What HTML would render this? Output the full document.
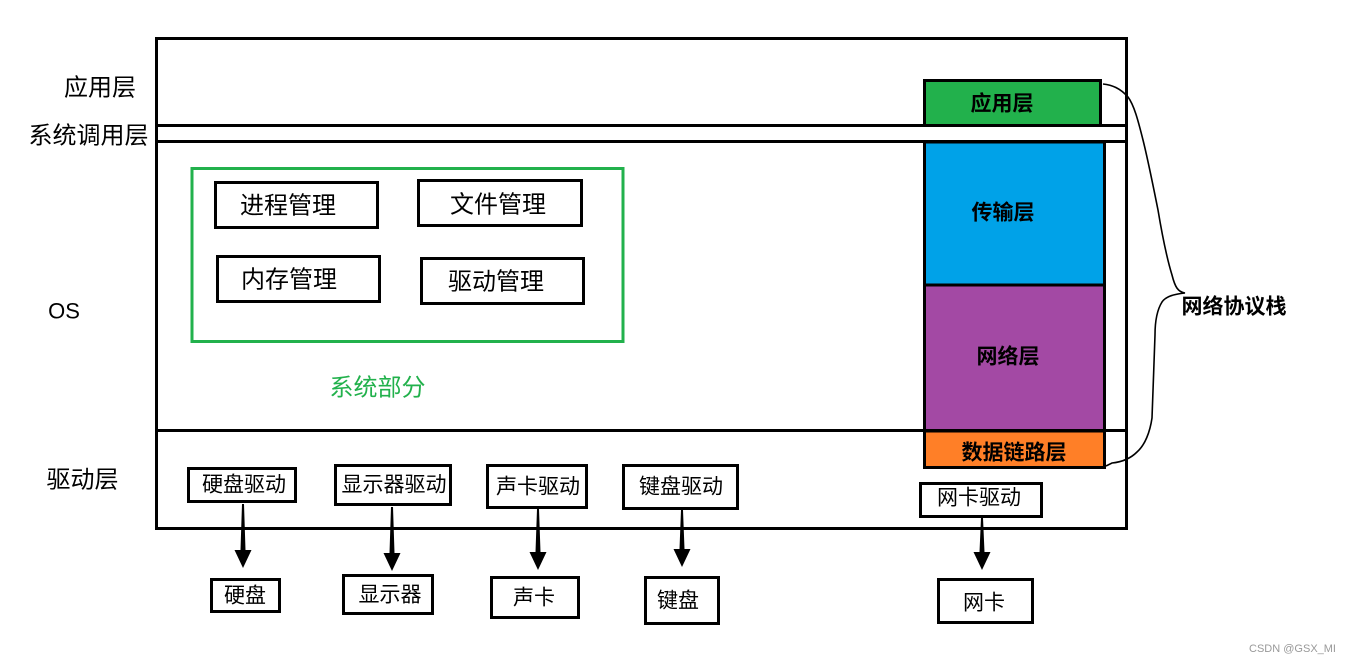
<!DOCTYPE html>
<html><head><meta charset="utf-8"><style>
html,body{margin:0;padding:0;background:#fff;}
svg{display:block;}
text{font-family:"Liberation Sans","Noto Sans CJK SC",sans-serif;}
</style></head><body>
<svg width="1352" height="664" viewBox="0 0 1352 664" xmlns="http://www.w3.org/2000/svg">
<rect x="0" y="0" width="1352" height="664" fill="#fff"/>
<!-- colored stack -->
<rect x="924.5" y="80.5" width="176" height="45" fill="#22b14c" stroke="#000" stroke-width="3"/>
<rect x="924.5" y="142" width="180" height="143" fill="#00a2e8" stroke="#000" stroke-width="3"/>
<rect x="924.5" y="285" width="180" height="146" fill="#a349a4" stroke="#000" stroke-width="3"/>
<rect x="924.5" y="431" width="180" height="36.5" fill="#ff7f27" stroke="#000" stroke-width="3"/>
<!-- outer box -->
<rect x="156.5" y="38.5" width="970" height="490" fill="none" stroke="#000" stroke-width="3"/>
<line x1="155" y1="125.5" x2="1128" y2="125.5" stroke="#000" stroke-width="3"/>
<line x1="155" y1="141.5" x2="1128" y2="141.5" stroke="#000" stroke-width="3"/>
<line x1="155" y1="430.5" x2="1128" y2="430.5" stroke="#000" stroke-width="3"/>
<!-- brace -->
<path d="M1103,84 C1112,85 1120,88 1128,97 C1134,105 1138,120 1143,140 C1148,160 1153,185 1158,210 C1163,240 1168,262 1172,275 C1175,287 1178,292 1185,293 C1175,294 1166,296 1162,302 C1157,310 1155,322 1155,335 C1154,360 1153,395 1152,418 C1150,432 1145,445 1137,452 C1130,459 1122,462 1112,463 L1106,466" fill="none" stroke="#000" stroke-width="1.6"/>
<!-- green system box -->
<rect x="192" y="168.5" width="431" height="173" fill="none" stroke="#22b14c" stroke-width="3"/>
<rect x="215.5" y="182.5" width="162" height="45" fill="none" stroke="#000" stroke-width="3"/>
<rect x="418.5" y="180.5" width="163" height="45" fill="none" stroke="#000" stroke-width="3"/>
<rect x="217.5" y="256.5" width="162" height="45" fill="none" stroke="#000" stroke-width="3"/>
<rect x="421.5" y="258.5" width="162" height="45" fill="none" stroke="#000" stroke-width="3"/>
<!-- driver boxes -->
<rect x="188.5" y="468.5" width="107" height="33" fill="none" stroke="#000" stroke-width="3"/>
<rect x="335.5" y="465.5" width="115" height="39" fill="none" stroke="#000" stroke-width="3"/>
<rect x="487.5" y="465.5" width="99" height="42" fill="none" stroke="#000" stroke-width="3"/>
<rect x="623.5" y="465.5" width="114" height="43" fill="none" stroke="#000" stroke-width="3"/>
<rect x="920.5" y="483.5" width="121" height="33" fill="none" stroke="#000" stroke-width="3"/>
<!-- device boxes -->
<rect x="211.5" y="579.5" width="68" height="32" fill="none" stroke="#000" stroke-width="3"/>
<rect x="343.5" y="575.5" width="89" height="38" fill="none" stroke="#000" stroke-width="3"/>
<rect x="491.5" y="577.5" width="87" height="40" fill="none" stroke="#000" stroke-width="3"/>
<rect x="645.5" y="577.5" width="73" height="46" fill="none" stroke="#000" stroke-width="3"/>
<rect x="938.5" y="579.5" width="94" height="43" fill="none" stroke="#000" stroke-width="3"/>
<!-- arrows -->
<g fill="#000">
<polygon points="242,504 244,504 245.5,550 251.5,550 243,568 234.5,550 240.5,550"/>
<polygon points="391,507 393,507 394.5,553 400.5,553 392,571 383.5,553 389.5,553"/>
<polygon points="537,509 539,509 540.5,552 546.5,552 538,570 529.5,552 535.5,552"/>
<polygon points="681,510 683,510 684.5,549 690.5,549 682,567 673.5,549 679.5,549"/>
<polygon points="981,518 983,518 984.5,552 990.5,552 982,570 973.5,552 979.5,552"/>
</g>
<!-- left labels -->
<g font-size="24" fill="#000" text-anchor="middle" dominant-baseline="central">
<text x="100" y="88">应用层</text>
<text x="88.5" y="136">系统调用层</text>
<text x="82.5" y="480">驱动层</text>
</g>
<text x="64" y="311" font-size="22" text-anchor="middle" dominant-baseline="central" fill="#000">OS</text>
<!-- system labels -->
<g font-size="24" fill="#000" text-anchor="middle" dominant-baseline="central">
<text x="288" y="206">进程管理</text>
<text x="498" y="205">文件管理</text>
<text x="289" y="280">内存管理</text>
<text x="496" y="282">驱动管理</text>
</g>
<text x="377.5" y="388" font-size="24" fill="#22b14c" text-anchor="middle" dominant-baseline="central">系统部分</text>
<!-- stack labels -->
<g font-size="21" font-weight="bold" fill="#000" text-anchor="middle" dominant-baseline="central">
<text x="1002" y="104">应用层</text>
<text x="1003" y="213">传输层</text>
<text x="1008" y="357">网络层</text>
<text x="1014" y="453">数据链路层</text>
<text x="1234" y="307">网络协议栈</text>
</g>
<!-- driver/device labels -->
<g font-size="21" fill="#000" text-anchor="middle" dominant-baseline="central">
<text x="244" y="485">硬盘驱动</text>
<text x="394" y="485">显示器驱动</text>
<text x="538" y="487">声卡驱动</text>
<text x="681" y="487">键盘驱动</text>
<text x="979" y="498">网卡驱动</text>
<text x="245" y="596">硬盘</text>
<text x="390" y="595">显示器</text>
<text x="534" y="598">声卡</text>
<text x="678" y="601">键盘</text>
<text x="984" y="603">网卡</text>
</g>
<text x="1336" y="649" font-size="11" fill="#999" text-anchor="end" dominant-baseline="central">CSDN @GSX_MI</text>
</svg>
</body></html>
